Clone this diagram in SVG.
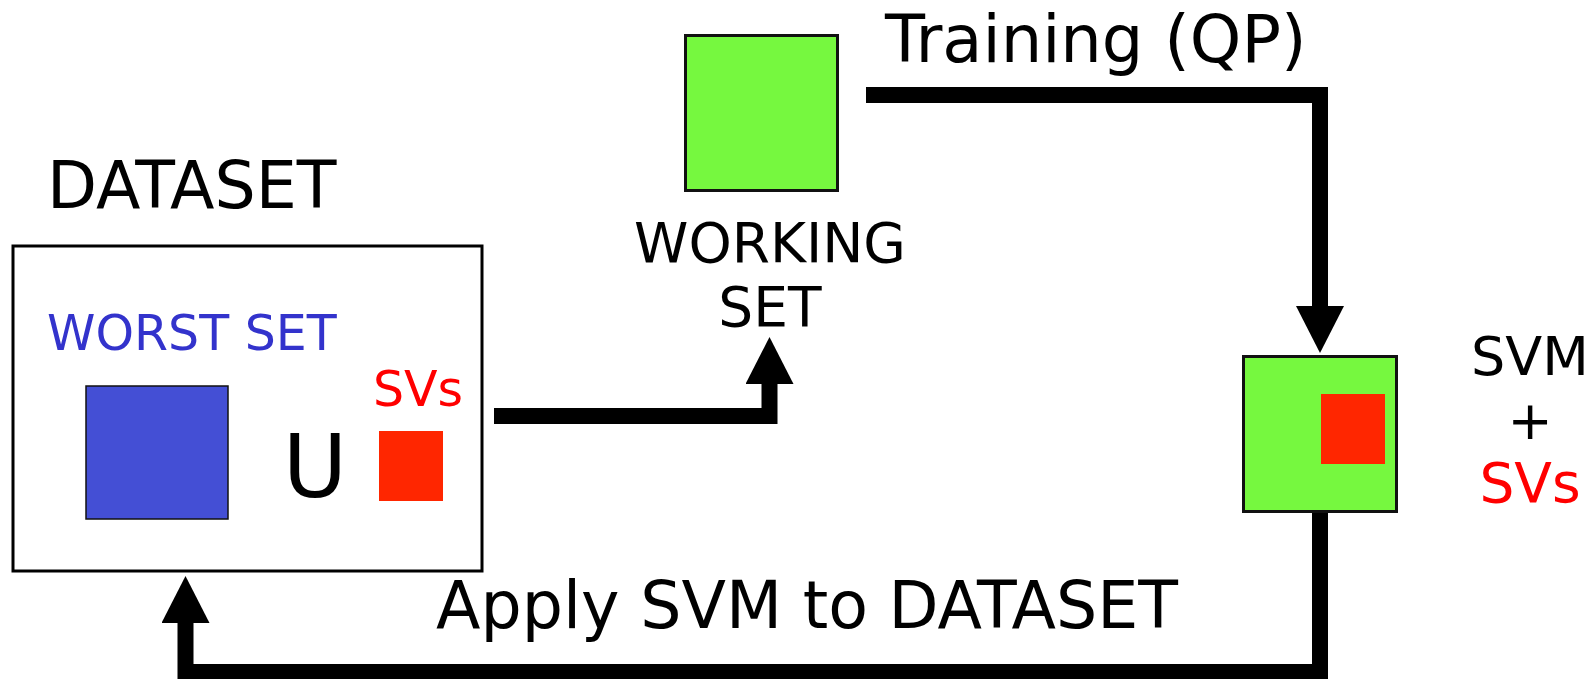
<svg xmlns="http://www.w3.org/2000/svg" width="1593" height="679" viewBox="0 0 1593 679">
<style>
text{font-family:"DejaVu Sans","Liberation Sans",sans-serif;fill:#000}
.conn{fill:none;stroke:#000;stroke-width:16;stroke-linejoin:miter;stroke-linecap:butt}
.green{fill:#76f83f;stroke:#111;stroke-width:3}
.red{fill:#ff2600}
.mid{text-anchor:middle}
</style>
<defs>
<marker id="ah" viewBox="0 0 47 48" refX="0" refY="24" markerWidth="47" markerHeight="48" markerUnits="userSpaceOnUse" orient="auto">
<path d="M0,0 L47,24 L0,48 Z" fill="#000"/>
</marker>
</defs>
<rect width="1593" height="679" fill="#fff"/>
<g id="connectors">
<path class="conn" d="M866,95 H1320 V306" marker-end="url(#ah)"/>
<path class="conn" d="M494,416 H769.5 V384" marker-end="url(#ah)"/>
<path class="conn" d="M1320,513 V672 H185.5 V623" marker-end="url(#ah)"/>
</g>
<g id="dataset">
<text x="47" y="208" font-size="65">DATASET</text>
<rect x="13" y="246" width="469" height="325" fill="#fff" stroke="#000" stroke-width="3"/>
<text x="47" y="350" font-size="49" style="fill:#3333cc">WORST SET</text>
<rect x="86" y="386" width="142" height="133" fill="#444fd5" stroke="#111" stroke-width="1.5"/>
<text x="315" y="497" font-size="88" class="mid">U</text>
<text x="373" y="406" font-size="49" style="fill:#ff0000">SVs</text>
<rect class="red" x="379" y="431" width="64" height="70"/>
</g>
<g id="working-set">
<rect class="green" x="685.5" y="35.5" width="152" height="155"/>
<text x="770" y="262" font-size="55" class="mid">WORKING</text>
<text x="770" y="326" font-size="55" class="mid">SET</text>
</g>
<g id="training-label">
<text x="885" y="62" font-size="65.5">Training (QP)</text>
</g>
<g id="svm">
<rect class="green" x="1243.5" y="356.5" width="153" height="155"/>
<rect class="red" x="1321" y="394" width="64" height="70"/>
<text x="1530" y="375" font-size="54" class="mid">SVM</text>
<text x="1530" y="439" font-size="54" class="mid">+</text>
<text x="1530" y="502" font-size="55" class="mid" style="fill:#ff0000">SVs</text>
</g>
<g id="apply-label">
<text x="436" y="628" font-size="65">Apply SVM to DATASET</text>
</g>
</svg>
